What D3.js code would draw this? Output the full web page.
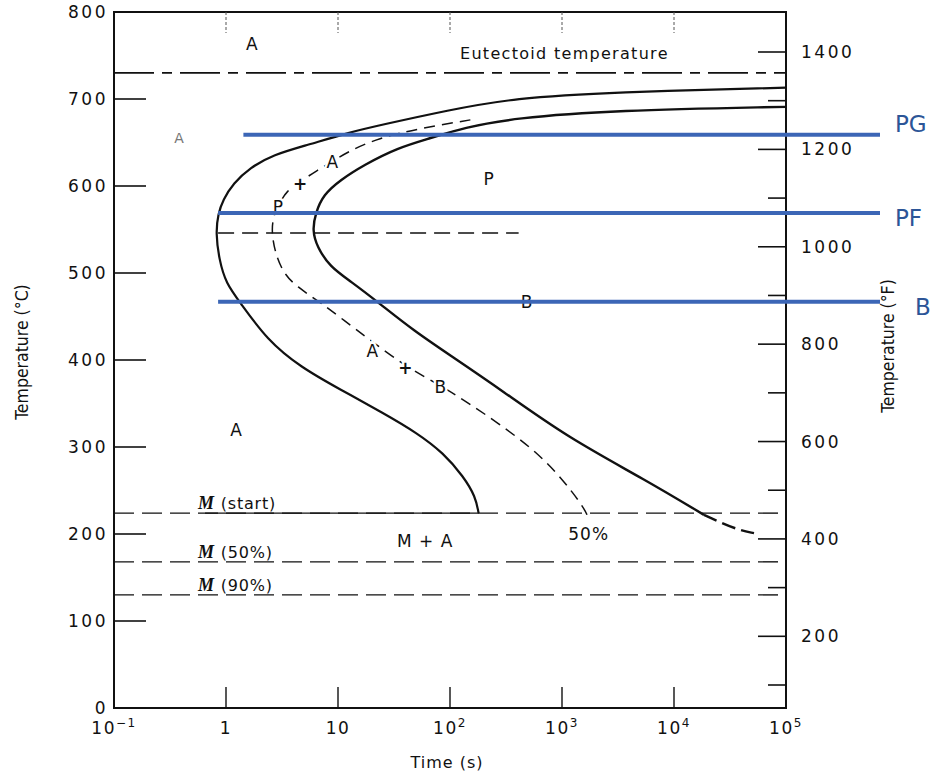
<!DOCTYPE html>
<html>
<head>
<meta charset="utf-8">
<script src="https://cdn.jsdelivr.net/npm/d3@7"></script>
<style>
  body { margin: 0; background: #fff; }
  svg { display: block; }
  text { font-family: "DejaVu Sans", sans-serif; fill: #111; }
</style>
</head>
<body>
<svg width="938" height="774"></svg>
<script>
// time (s), temperature (C) pairs
const startCurve = [
    [100000, 713], [2900, 708], [370, 701], [95, 687], [24, 670], [12.9, 662],
    [5.3, 647], [2.64, 636], [1.64, 621], [1.16, 603], [0.94, 584], [0.85, 568],
    [0.81, 546], [0.87, 515], [1.0, 488], [1.34, 466], [2.33, 423], [4.6, 392],
    [10.5, 366], [25.4, 339], [51, 316], [87.5, 293], [132, 266], [169, 243], [180, 224]
];
const halfCurve = [
    [152, 676], [58, 667], [22.5, 655], [12.1, 639], [8.9, 628], [6.5, 618],
    [4.6, 605], [3.5, 595], [2.93, 578], [2.62, 563], [2.56, 546], [2.75, 523],
    [3.24, 500], [4.3, 484], [7.0, 466], [11.2, 446], [19.3, 423], [41.7, 391],
    [82, 371], [144, 351], [266, 328], [560, 297], [970, 266], [1560, 231], [1700, 220]
];
const finishCurve = [
    [100000, 691], [2900, 687], [370, 678], [132, 667], [67, 655], [34, 644],
    [16.9, 624], [10.5, 607], [7.4, 590], [6.3, 569], [5.9, 549], [6.5, 530],
    [8.5, 507], [12.8, 491], [23, 466], [47, 434], [107, 403], [283, 366],
    [1120, 311], [5600, 262], [18500, 222]
];
const finishTail = [[18500, 222], [26200, 213], [37200, 205], [51800, 201]];

const eutectoidTemp = 730;
const noseLine = { temp: 546, from: 0.85, to: 410 };
const martensiteLines = [
    { name: "start", temp: 224 },
    { name: "50%", temp: 168 },
    { name: "90%", temp: 130 }
];
const blueLines = [
    { name: "PG", temp: 659, from: 1.43 },
    { name: "PF", temp: 569, from: 0.85 },
    { name: "B", temp: 467, from: 0.85 }
];

const timeTicks = [0.1, 1, 10, 100, 1000, 10000, 100000];
const celsiusTicks = [0, 100, 200, 300, 400, 500, 600, 700, 800];
const fahrenheitMajor = [200, 400, 600, 800, 1000, 1200, 1400];
const fahrenheitMinor = [100, 300, 500, 700, 900, 1100, 1300];

const regionLabels = [
    { text: "A", t: 1.7, temp: 763 },
    { text: "A", t: 0.38, temp: 655, faint: true },
    { text: "P", t: 221, temp: 608 },
    { text: "P", t: 2.9, temp: 576, halo: true },
    { text: "+", t: 4.6, temp: 603, halo: true },
    { text: "A", t: 8.9, temp: 628, halo: true },
    { text: "B", t: 483, temp: 467 },
    { text: "A", t: 20.3, temp: 411, halo: true },
    { text: "+", t: 40, temp: 391, halo: true },
    { text: "B", t: 82, temp: 369, halo: true },
    { text: "A", t: 1.23, temp: 320 },
    { text: "M  +  A", t: 60, temp: 192 },
    { text: "50%", t: 1730, temp: 200 }
];

const svg = d3.select("svg");

const x = d3.scaleLog().domain([0.1, 100000]).range([114, 786]);
const y = d3.scaleLinear().domain([0, 800]).range([708, 12]);
const yF = d3.scaleLinear().domain([100, 1400]).range([685, 52]);

const line = d3.line()
    .x(d => x(d[0]))
    .y(d => y(d[1]))
    .curve(d3.curveBasis);

// frame
svg.append("rect")
    .attr("x", x(0.1)).attr("y", y(800))
    .attr("width", x(100000) - x(0.1))
    .attr("height", y(0) - y(800))
    .attr("fill", "none").attr("stroke", "#111").attr("stroke-width", 2);

// left axis ticks + labels
svg.selectAll(".ctick").data(celsiusTicks).enter().append("line")
    .attr("x1", x(0.1)).attr("x2", x(0.1) + 32)
    .attr("y1", d => y(d)).attr("y2", d => y(d))
    .attr("stroke", "#111").attr("stroke-width", 1.6);
svg.selectAll(".clabel").data(celsiusTicks).enter().append("text")
    .attr("x", 108).attr("y", d => y(d) + 6)
    .attr("text-anchor", "end")
    .attr("font-size", 17).attr("letter-spacing", 2.5)
    .text(d => d);

// right axis (Fahrenheit)
svg.selectAll(".fmaj").data(fahrenheitMajor).enter().append("line")
    .attr("x1", x(100000) - 28).attr("x2", x(100000))
    .attr("y1", d => yF(d)).attr("y2", d => yF(d))
    .attr("stroke", "#111").attr("stroke-width", 1.6);
svg.selectAll(".fmin").data(fahrenheitMinor).enter().append("line")
    .attr("x1", x(100000) - 18).attr("x2", x(100000))
    .attr("y1", d => yF(d)).attr("y2", d => yF(d))
    .attr("stroke", "#111").attr("stroke-width", 1.6);
svg.selectAll(".flabel").data(fahrenheitMajor).enter().append("text")
    .attr("x", 801).attr("y", d => yF(d) + 6)
    .attr("font-size", 17).attr("letter-spacing", 2.5)
    .text(d => d);

// time ticks, bottom and top
const innerTicks = timeTicks.slice(1, -1);
svg.selectAll(".tbot").data(innerTicks).enter().append("line")
    .attr("x1", d => x(d)).attr("x2", d => x(d))
    .attr("y1", y(0)).attr("y2", y(0) - 21)
    .attr("stroke", "#111").attr("stroke-width", 1.4);
svg.selectAll(".ttop").data(innerTicks).enter().append("line")
    .attr("x1", d => x(d)).attr("x2", d => x(d))
    .attr("y1", y(800)).attr("y2", y(800) + 21)
    .attr("stroke", "#555").attr("stroke-width", 1)
    .attr("stroke-dasharray", "3,2");

const tlab = svg.selectAll(".tlabel").data(timeTicks).enter().append("text")
    .attr("x", d => x(d)).attr("y", 734)
    .attr("text-anchor", "middle")
    .attr("font-size", 17).attr("letter-spacing", 1.5);
tlab.each(function (d) {
    const e = Math.round(Math.log10(d));
    const t = d3.select(this);
    if (e === 0) { t.text("1"); return; }
    if (e === 1) { t.text("10"); return; }
    t.append("tspan").text("10");
    t.append("tspan").attr("font-size", 12).attr("dy", -7)
        .text(e < 0 ? "\u2212" + (-e) : e);
});

// axis titles
svg.append("text")
    .attr("transform", `translate(28,${352}) rotate(-90)`)
    .attr("text-anchor", "middle")
    .attr("font-family", "DejaVu Sans Condensed, DejaVu Sans, sans-serif")
    .attr("font-stretch", "condensed")
    .attr("font-size", 17.5)
    .text("Temperature (\u00B0C)");
svg.append("text")
    .attr("transform", `translate(894,${346}) rotate(-90)`)
    .attr("text-anchor", "middle")
    .attr("font-family", "DejaVu Sans Condensed, DejaVu Sans, sans-serif")
    .attr("font-stretch", "condensed")
    .attr("font-size", 17.5)
    .text("Temperature (\u00B0F)");
svg.append("text")
    .attr("x", 447).attr("y", 768)
    .attr("text-anchor", "middle")
    .attr("font-size", 16).attr("letter-spacing", 1)
    .text("Time (s)");

// eutectoid line
svg.append("line")
    .attr("x1", x(0.1)).attr("x2", x(100000))
    .attr("y1", y(eutectoidTemp)).attr("y2", y(eutectoidTemp))
    .attr("stroke", "#111").attr("stroke-width", 1.6)
    .attr("stroke-dasharray", "40,8,10,8");
svg.append("text")
    .attr("x", 460).attr("y", y(eutectoidTemp) - 14)
    .attr("font-size", 16).attr("letter-spacing", 1.3)
    .text("Eutectoid temperature");

// nose temperature dashed line
svg.append("line")
    .attr("x1", x(noseLine.from)).attr("x2", x(noseLine.to))
    .attr("y1", y(noseLine.temp)).attr("y2", y(noseLine.temp))
    .attr("stroke", "#111").attr("stroke-width", 1.5)
    .attr("stroke-dasharray", "16,8");

// martensite lines
martensiteLines.forEach(m => {
    svg.append("line")
        .attr("x1", x(0.1)).attr("x2", x(100000))
        .attr("y1", y(m.temp)).attr("y2", y(m.temp))
        .attr("stroke", "#111").attr("stroke-width", 1.4)
        .attr("stroke-dasharray", "20,8");
    const t = svg.append("text")
        .attr("x", 198).attr("y", y(m.temp) - 4)
        .attr("font-size", 16).attr("letter-spacing", 0.8);
    t.append("tspan")
        .attr("font-family", "Liberation Serif, serif")
        .attr("font-style", "italic").attr("font-weight", "bold")
        .attr("font-size", 18)
        .text("M");
    t.append("tspan").text(" (" + m.name + ")");
});
// solid part of the M(start) line under the label
svg.append("line")
    .attr("x1", x(0.65)).attr("x2", x(startCurve[startCurve.length - 1][0]))
    .attr("y1", y(martensiteLines[0].temp)).attr("y2", y(martensiteLines[0].temp))
    .attr("stroke", "#111").attr("stroke-width", 1.2);

// transformation curves
svg.append("path").datum(startCurve)
    .attr("d", line).attr("fill", "none")
    .attr("stroke", "#111").attr("stroke-width", 2.2);
svg.append("path").datum(finishCurve)
    .attr("d", line).attr("fill", "none")
    .attr("stroke", "#111").attr("stroke-width", 2.4);
svg.append("path").datum(finishTail)
    .attr("d", line).attr("fill", "none")
    .attr("stroke", "#111").attr("stroke-width", 2.4)
    .attr("stroke-dasharray", "14,6");
svg.append("path").datum(halfCurve)
    .attr("d", line).attr("fill", "none")
    .attr("stroke", "#111").attr("stroke-width", 1.5)
    .attr("stroke-dasharray", "11,7");

// region labels
svg.selectAll(".rlabel").data(regionLabels).enter().append("text")
    .attr("x", d => x(d.t)).attr("y", d => y(d.temp))
    .attr("dy", "0.36em")
    .attr("text-anchor", "middle")
    .attr("font-size", d => d.faint ? 14 : 17)
    .attr("font-weight", d => d.text === "+" ? "bold" : "normal")
    .attr("letter-spacing", d => d.text.length > 1 ? 1 : 0)
    .style("fill", d => d.faint ? "#777" : "#111")
    .attr("stroke", d => d.halo ? "#fff" : "none")
    .attr("stroke-width", 5)
    .attr("paint-order", "stroke")
    .text(d => d.text);

// blue overlay lines
const blueLabelDy = [-11, 5, 5];
const blueLabelX = [895, 895, 915];
blueLines.forEach((b, i) => {
    svg.append("line")
        .attr("x1", x(b.from)).attr("x2", 880)
        .attr("y1", y(b.temp)).attr("y2", y(b.temp))
        .attr("stroke", "#3C66B6").attr("stroke-width", 4);
    svg.append("text")
        .attr("x", blueLabelX[i]).attr("y", y(b.temp) + blueLabelDy[i])
        .attr("dy", "0.36em")
        .attr("font-family", "Liberation Sans, Arial, sans-serif")
        .attr("font-size", 23)
        .style("fill", "#2C5597")
        .text(b.name);
});
</script>
</body>
</html>
